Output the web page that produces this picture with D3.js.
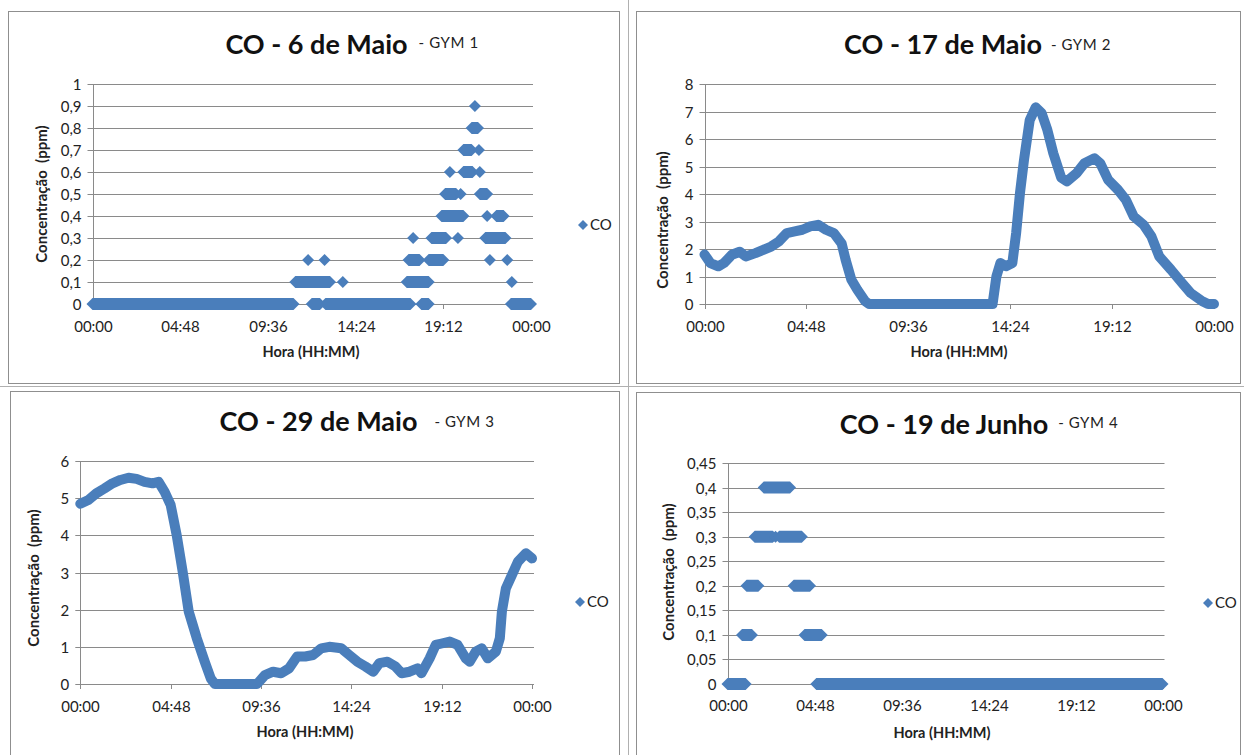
<!DOCTYPE html>
<html>
<head>
<meta charset="utf-8">
<script src="https://cdn.jsdelivr.net/npm/d3@7/dist/d3.min.js"></script>
<style>
  html, body { margin: 0; padding: 0; background: #fff; }
  svg { display: block; font-family: Lato, "Open Sans", sans-serif; }
</style>
</head>
<body>
<svg id="chart" width="1244" height="755"></svg>
<script>
// ---------------- DATA ----------------
const xTickValues = [0, 4.8, 9.6, 14.4, 19.2, 24];
const xTickLabels = ["00:00", "04:48", "09:36", "14:24", "19:12", "00:00"];

const titles = ["CO - 6 de Maio", "CO - 17 de Maio", "CO - 29 de Maio", "CO - 19 de Junho"];
const gymLabels = ["- GYM 1", "- GYM 2", "- GYM 3", "- GYM 4"];
const xAxisTitle = "Hora (HH:MM)";
const yAxisTitle = "Concentração  (ppm)";
const seriesName = "CO";

// GYM 1 y ticks
const gym1YTicks = [0, 0.1, 0.2, 0.3, 0.4, 0.5, 0.6, 0.7, 0.8, 0.9, 1];
const gym1YLabels = ["0", "0,1", "0,2", "0,3", "0,4", "0,5", "0,6", "0,7", "0,8", "0,9", "1"];
// GYM 1 runs of consecutive readings: [level ppm, start hour, end hour]
const gym1Runs = [
  [0, 0, 11.0], [0, 12.0, 12.45], [0, 12.75, 17.4], [0, 18.0, 18.4], [0, 22.9, 24.0],
  [0.1, 11.1, 13.0], [0.1, 13.7, 13.7], [0.1, 17.2, 18.4], [0.1, 22.95, 22.95],
  [0.2, 11.8, 11.8], [0.2, 12.7, 12.7], [0.2, 17.3, 17.9], [0.2, 18.4, 19.2], [0.2, 21.75, 21.75], [0.2, 22.7, 22.7],
  [0.3, 17.55, 17.55], [0.3, 18.55, 19.35], [0.3, 20.0, 20.0], [0.3, 21.5, 22.6],
  [0.4, 19.1, 20.3], [0.4, 21.6, 21.6], [0.4, 22.1, 22.5],
  [0.5, 19.3, 19.9], [0.5, 20.15, 20.15], [0.5, 21.2, 21.6],
  [0.6, 19.56, 19.56], [0.6, 20.3, 20.8], [0.6, 21.2, 21.2],
  [0.7, 20.3, 20.75], [0.7, 21.15, 21.15],
  [0.8, 20.75, 21.1],
  [0.9, 20.93, 20.93]
];

// GYM 2
const gym2YTicks = [0, 1, 2, 3, 4, 5, 6, 7, 8];
const gym2YLabels = ["0", "1", "2", "3", "4", "5", "6", "7", "8"];
const gym2Hours = [0, 0.28, 0.65, 0.92, 1.29, 1.66, 1.94, 2.4, 2.77, 3.14, 3.51, 3.88, 4.25, 4.61, 4.98, 5.35, 5.72, 6.09, 6.46, 6.65, 6.92, 7.2, 7.57, 7.75,
  13.57, 13.75, 13.94, 14.2, 14.5, 14.68, 14.86, 15.05, 15.32, 15.6, 15.88, 16.15, 16.43, 16.8, 17.07, 17.53, 17.9, 18.37, 18.64, 19.01, 19.48, 19.85, 20.22, 20.68, 21.05, 21.42, 21.97, 22.5, 22.9, 23.45, 23.72, 24.0];
const gym2Values = [1.8, 1.49, 1.37, 1.49, 1.79, 1.9, 1.73, 1.85, 1.97, 2.09, 2.28, 2.58, 2.64, 2.7, 2.82, 2.88, 2.7, 2.58, 2.2, 1.6, 0.88, 0.52, 0.1, 0,
  0, 1.0, 1.49, 1.37, 1.49, 2.58, 4.03, 5.24, 6.69, 7.15, 6.94, 6.33, 5.48, 4.6, 4.46, 4.76, 5.12, 5.3, 5.12, 4.52, 4.15, 3.79, 3.18, 2.88, 2.46, 1.73, 1.25, 0.76, 0.4, 0.1, 0, 0];

// GYM 3
const gym3YTicks = [0, 1, 2, 3, 4, 5, 6];
const gym3YLabels = ["0", "1", "2", "3", "4", "5", "6"];
const gym3Hours = [0, 0.43, 0.85, 1.28, 1.71, 2.13, 2.56, 2.99, 3.41, 3.84, 4.16, 4.48, 4.8, 5.12, 5.44, 5.76, 6.19, 6.61, 6.93, 7.15,
  9.39, 9.81, 10.24, 10.67, 11.09, 11.52, 11.95, 12.37, 12.8, 13.23, 13.87, 14.29, 14.72, 15.15, 15.57, 15.89, 16.32, 16.75, 17.07, 17.49, 17.92, 18.13,
  18.56, 18.88, 19.2, 19.63, 20.05, 20.48, 20.69, 21.01, 21.33, 21.65, 22.08, 22.29, 22.4, 22.61, 22.93, 23.25, 23.68, 24.0];
const gym3Values = [4.85, 4.95, 5.13, 5.26, 5.4, 5.49, 5.55, 5.52, 5.44, 5.4, 5.44, 5.17, 4.82, 4.01, 3.02, 1.95, 1.23, 0.6, 0.15, 0,
  0, 0.24, 0.33, 0.29, 0.42, 0.74, 0.74, 0.78, 0.96, 1.0, 0.96, 0.78, 0.6, 0.47, 0.33, 0.56, 0.6, 0.47, 0.29, 0.33, 0.42, 0.29,
  0.69, 1.05, 1.09, 1.14, 1.05, 0.69, 0.6, 0.87, 0.96, 0.69, 0.87, 1.23, 1.95, 2.57, 2.93, 3.29, 3.52, 3.38];

// GYM 4
const gym4YTicks = [0, 0.05, 0.1, 0.15, 0.2, 0.25, 0.3, 0.35, 0.4, 0.45];
const gym4YLabels = ["0", "0,05", "0,1", "0,15", "0,2", "0,25", "0,3", "0,35", "0,4", "0,45"];
const gym4Runs = [
  [0, 0, 1.0], [0, 4.9, 24.0],
  [0.1, 0.8, 1.35], [0.1, 4.25, 5.2],
  [0.2, 1.05, 1.7], [0.2, 3.65, 4.55],
  [0.3, 1.5, 2.5], [0.3, 2.65, 2.65], [0.3, 2.85, 4.1],
  [0.4, 2.0, 3.45]
];

// ---------------- LAYOUT ----------------
const BLUE = "#4a7ebb";
const GRID = "#8a8a8a";
const svg = d3.select("#chart");

const panels = [
  { box: [8, 11, 619, 383], px: [92.5, 531], py: [304, 84], yTicks: gym1YTicks, yLabels: gym1YLabels, yMax: 1,
    title: [316.5, 54], gym: [48, 11], xTitle: [311, 357], yTitle: [42, 194], legend: [583, 225], labelY: 332,
    runs: gym1Runs },
  { box: [636, 11, 1240, 383], px: [704.5, 1214], py: [304, 84], yTicks: gym2YTicks, yLabels: gym2YLabels, yMax: 8,
    title: [943, 54], gym: [50, 9], xTitle: [959, 357], yTitle: [663, 220], legend: null, labelY: 332,
    hours: gym2Hours, values: gym2Values },
  { box: [10, 391, 619, 760], px: [80.3, 532], py: [684, 461], yTicks: gym3YTicks, yLabels: gym3YLabels, yMax: 6,
    title: [318.5, 431], gym: [427, 17], xTitle: [305, 737], yTitle: [34, 578], legend: [580, 602], labelY: 712,
    hours: gym3Hours, values: gym3Values },
  { box: [636, 392, 1240, 760], px: [727.5, 1162.5], py: [684, 463], yTicks: gym4YTicks, yLabels: gym4YLabels, yMax: 0.45,
    title: [944, 434], gym: [428, 10], xTitle: [942, 738], yTitle: [669, 572], legend: [1208, 603], labelY: 711,
    runs: gym4Runs }
];

// outer frame lines
svg.append("line").attr("x1", 0).attr("x2", 1244).attr("y1", 386.5).attr("y2", 386.5).attr("stroke", "#b0b0b0");
svg.append("line").attr("x1", 628.5).attr("x2", 628.5).attr("y1", 0).attr("y2", 755).attr("stroke", "#b0b0b0");

function diamondRun(x, y, level, t0, t1, h) {
  const a = x(t0), b = x(t1), c = y(level);
  return `M${a - h},${c} L${a},${c - h} L${b},${c - h} L${b + h},${c} L${b},${c + h} L${a},${c + h} Z`;
}

panels.forEach((p, i) => {
  const g = svg.append("g");
  const [bx0, by0, bx1, by1] = p.box;
  g.append("rect").attr("x", bx0 + 0.5).attr("y", by0 + 0.5).attr("width", bx1 - bx0).attr("height", by1 - by0)
    .attr("fill", "#fff").attr("stroke", "#8f8f8f");

  const x = d3.scaleLinear().domain([0, 24]).range(p.px);
  const y = d3.scaleLinear().domain([0, p.yMax]).range(p.py);

  // gridlines + y tick marks
  p.yTicks.forEach((v, k) => {
    const yy = Math.round(y(v)) + 0.5;
    g.append("line").attr("x1", p.px[0] - 5).attr("x2", p.px[1] + 2).attr("y1", yy).attr("y2", yy)
      .attr("stroke", GRID).attr("stroke-width", 1);
    g.append("text").attr("x", p.px[0] - 11).attr("y", yy).attr("dy", "0.35em")
      .attr("text-anchor", "end").attr("font-size", 15).attr("fill", "#222").text(p.yLabels[k]);
  });
  // y axis line
  g.append("line").attr("x1", Math.round(p.px[0]) + 0.5).attr("x2", Math.round(p.px[0]) + 0.5)
    .attr("y1", p.py[1]).attr("y2", p.py[0]).attr("stroke", GRID);
  // x ticks and labels
  xTickValues.forEach((v, k) => {
    const xx = Math.round(x(v)) + 0.5;
    g.append("line").attr("x1", xx).attr("x2", xx).attr("y1", p.py[0]).attr("y2", p.py[0] + 5).attr("stroke", GRID);
    g.append("text").attr("x", xx).attr("y", p.labelY).attr("text-anchor", "middle")
      .attr("font-size", 15).attr("fill", "#222").text(xTickLabels[k]);
  });

  // data
  if (p.runs) {
    g.append("g").selectAll("path").data(p.runs).join("path")
      .attr("d", d => diamondRun(x, y, d[0], d[1], d[2], 6))
      .attr("fill", BLUE);
  } else {
    const pts = p.hours.map((h, k) => [h, p.values[k]]);
    const line = d3.line().x(d => x(d[0])).y(d => y(d[1]));
    g.append("path").attr("d", line(pts)).attr("fill", "none").attr("stroke", BLUE)
      .attr("stroke-width", 10).attr("stroke-linejoin", "round").attr("stroke-linecap", "round");
  }

  // title
  const t = g.append("text").attr("x", p.title[0]).attr("y", p.title[1]).attr("text-anchor", "middle")
    .attr("font-size", 27).attr("font-weight", "bold").attr("fill", "#111").text(titles[i]);
  const bb = t.node().getBBox();
  g.append("text").attr("x", bb.x + bb.width + p.gym[1]).attr("y", p.gym[0])
    .attr("font-size", 15).attr("letter-spacing", 0.6).attr("fill", "#222").text(gymLabels[i]);

  // axis titles
  g.append("text").attr("x", p.xTitle[0]).attr("y", p.xTitle[1]).attr("text-anchor", "middle")
    .attr("font-size", 14.5).attr("font-weight", "bold").attr("fill", "#222").text(xAxisTitle);
  g.append("text").attr("transform", `translate(${p.yTitle[0]},${p.yTitle[1]}) rotate(-90)`)
    .attr("text-anchor", "middle").attr("dy", "0.35em").style("white-space", "pre")
    .attr("font-size", 15).attr("font-weight", "bold").attr("fill", "#222").text(yAxisTitle);

  // legend
  if (p.legend) {
    const [lx, ly] = p.legend;
    g.append("path").attr("d", `M${lx - 5},${ly} L${lx},${ly - 5} L${lx + 5},${ly} L${lx},${ly + 5} Z`).attr("fill", BLUE);
    g.append("text").attr("x", lx + 7).attr("y", ly).attr("dy", "0.35em").attr("font-size", 15)
      .attr("fill", "#222").text(seriesName);
  }
});
</script>
</body>
</html>
